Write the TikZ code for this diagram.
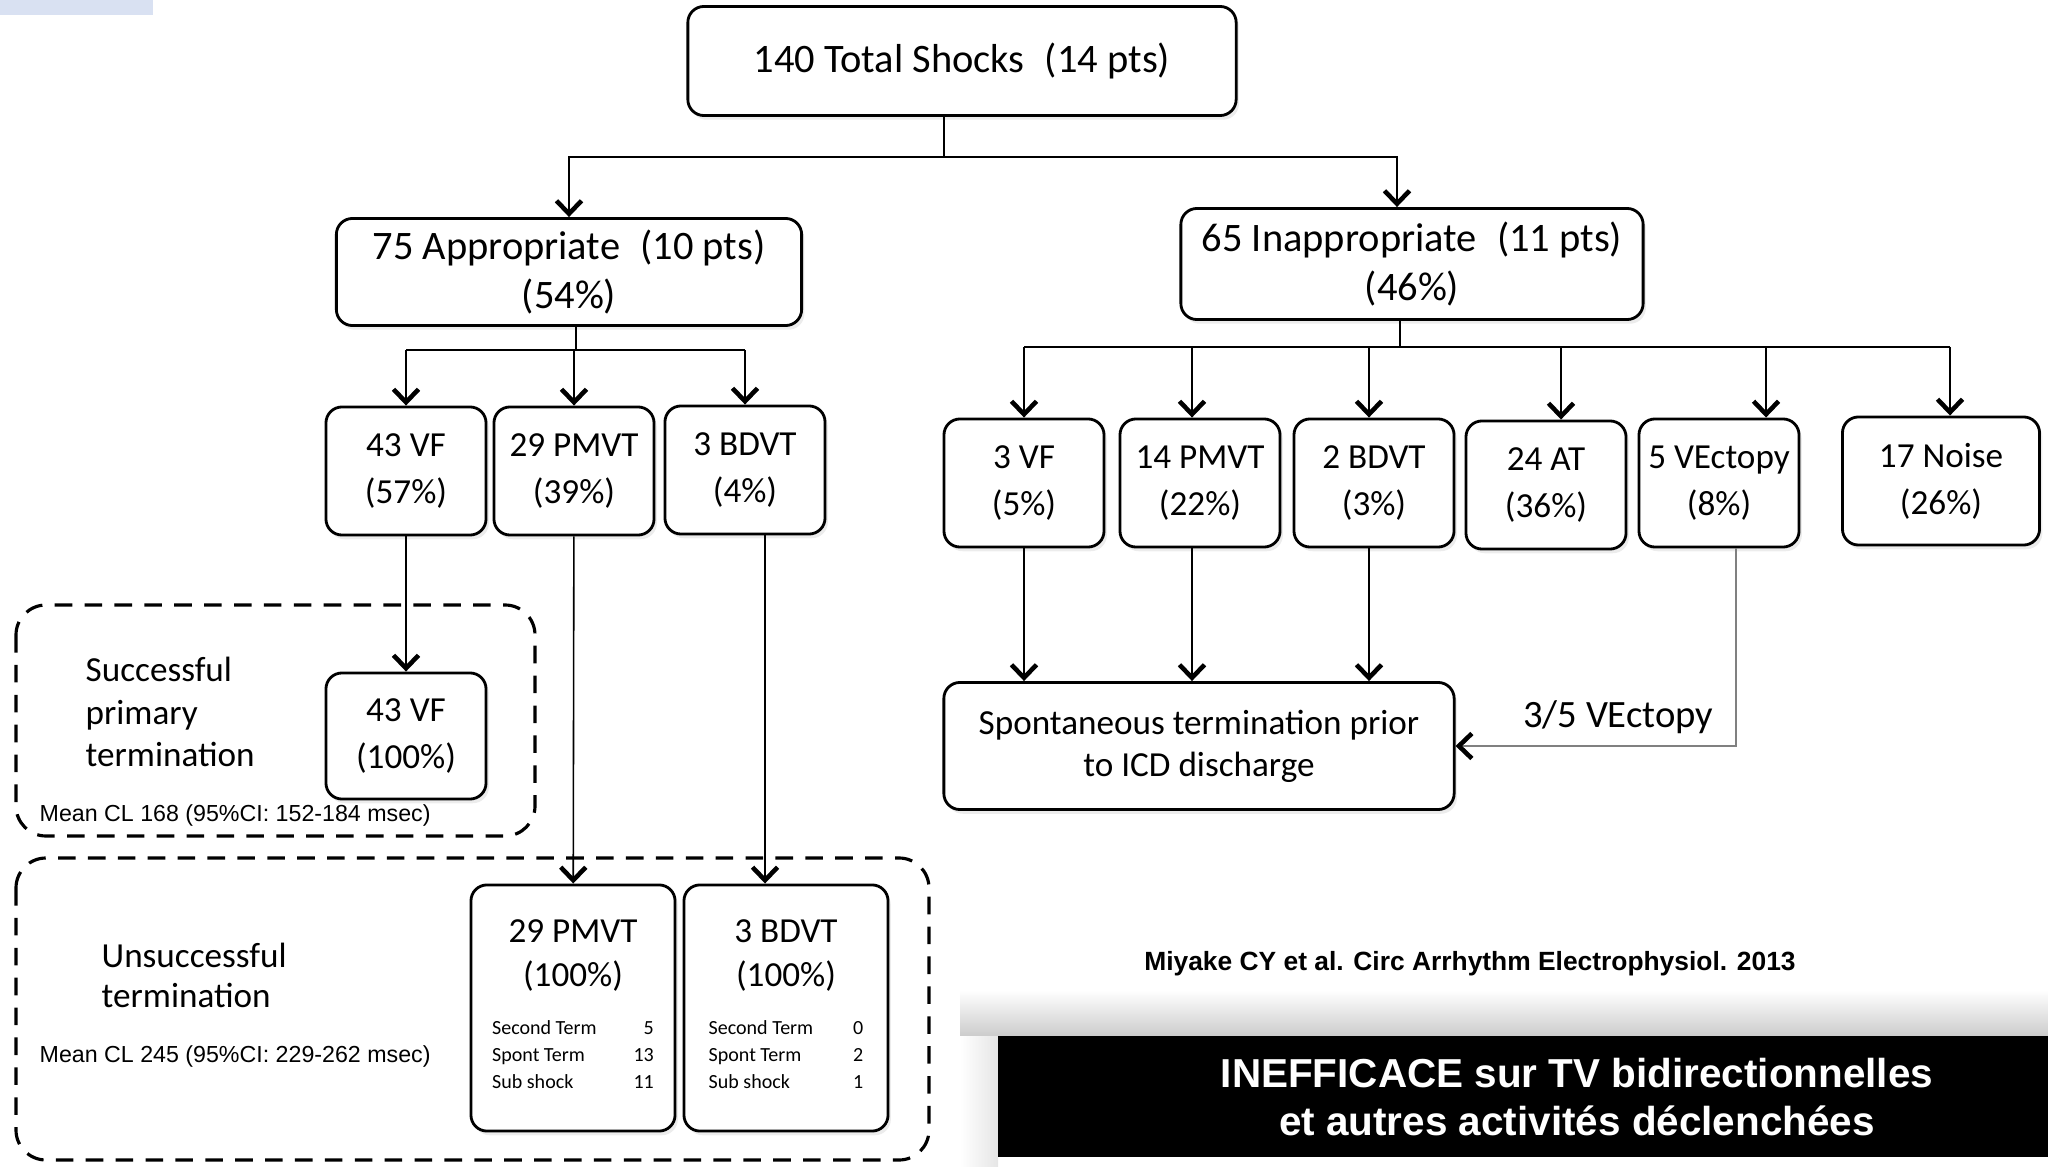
\documentclass[tikz,border=0pt]{standalone}
\usepackage{fontspec}
\setmainfont{Carlito}
\newfontfamily\arialfont{Liberation Sans}
\usetikzlibrary{arrows.meta,shadows}

\definecolor{paleblue}{HTML}{D9E1F2}

% small counts under a box title
\newcommand{\tally}[2]{{\fontsize{5.7}{7.7}\selectfont
  \begin{tabular*}{#1}{@{}l@{\extracolsep{\fill}}r@{}}#2\end{tabular*}}}

\tikzset{
  box/.style={draw, line width=0.8pt, rounded corners=1.6mm, fill=white,
    align=center, inner sep=1pt,
    drop shadow={opacity=0.15, shadow xshift=0.8pt, shadow yshift=-1.2pt}},
  topbox/.style={box, font=\fontsize{11.5}{14}\selectfont},
  typebox/.style={box, font=\fontsize{10}{13.4}\selectfont,
    minimum width=1.6cm, minimum height=1.28cm},
  tallybox/.style={typebox, font=\fontsize{10}{12.5}\selectfont,
    minimum width=2.04cm, minimum height=2.46cm},
  link/.style={line width=0.45pt},
  arr/.style={link, -{Straight Barb[length=1.3mm, width=2.5mm, line width=1.3pt, color=black]}},
  group/.style={line width=0.9pt, dash pattern=on 5pt off 3.5pt, rounded corners=3mm},
  grouptext/.style={anchor=west, align=left, inner sep=0pt, font=\fontsize{10}{12}\selectfont},
  clnote/.style={anchor=west, inner sep=0pt, font=\arialfont\fontsize{6.6}{8}\selectfont},
  citetext/.style={inner sep=0pt, font=\arialfont\bfseries\fontsize{7.5}{9}\selectfont},
  slogan/.style={align=center, inner sep=0pt, text=white,
    font=\arialfont\bfseries\fontsize{11.5}{13.4}\selectfont},
}

\begin{document}
\begin{tikzpicture}[x=0.01cm, y=-0.01cm]
  \useasboundingbox (0,0) rectangle (2048,1167);
  \fill[paleblue] (0,0) rectangle (153,15);

  % dashed groups
  \draw[group] (16,605) rectangle (535,836);
  \draw[group] (16,858) rectangle (929,1160);

  % all shocks
  \node[topbox, minimum width=5.48cm, minimum height=1.09cm] (total) at (962,61) {140 Total Shocks\enspace(14 pts)};
  \node[topbox, minimum width=4.65cm, minimum height=1.07cm] (appr) at (569,272) {75 Appropriate\enspace(10 pts)\\(54\%)};
  \node[topbox, minimum width=4.62cm, minimum height=1.11cm] (inappr) at (1412,264) {65 Inappropriate\enspace(11 pts)\\(46\%)};

  \coordinate (tbus) at (944,157);
  \coordinate (inappr-in) at ([xshift=-1.5mm]inappr.north);
  \draw[link] (total.south -| tbus) -- (tbus);
  \draw[arr] (tbus) -| (appr.north);
  \draw[arr] (tbus) -| (inappr-in);

  % appropriate
  \node[typebox] (avf) at (406,471) {43 VF\\(57\%)};
  \node[typebox] (apm) at (574,471) {29 PMVT\\(39\%)};
  \node[typebox] (abd) at (745,470) {3 BDVT\\(4\%)};

  \coordinate (abus) at (576,350);
  \draw[link] (appr.south -| abus) -- (abus);
  \draw[link] (avf.north |- abus) -- (abd.north |- abus);
  \foreach \n in {avf,apm,abd}
    \draw[arr] (\n.north |- abus) -- (\n.north);

  % inappropriate
  \node[typebox] (ivf) at (1024,483) {3 VF\\(5\%)};
  \node[typebox] (ipm) at (1200,483) {14 PMVT\\(22\%)};
  \node[typebox] (ibd) at (1374,483) {2 BDVT\\(3\%)};
  \node[typebox] (iat) at (1546,485) {24 AT\\(36\%)};
  \node[typebox] (ive) at (1719,483) {5 VEctopy\\(8\%)};
  \node[typebox, minimum width=1.97cm] (ino) at (1941,481) {17 Noise\\(26\%)};

  \coordinate (ibus) at (1400,347);
  \draw[link] (inappr.south -| ibus) -- (ibus);
  \foreach \n/\s in {ivf/0,ipm/-0.8,ibd/-0.5,iat/1.5,ive/4.7,ino/0.9} {
    \coordinate (\n-in) at ([xshift=\s mm]\n.north);
    \draw[arr] (\n-in |- ibus) -- (\n-in);
  }
  \draw[link] (ivf-in |- ibus) -- (ino-in |- ibus);

  \node[typebox, font=\fontsize{10}{12}\selectfont, minimum width=5.1cm, minimum height=1.27cm] (spont) at (1199,746) {Spontaneous termination prior\\to ICD discharge};
  \foreach \n in {ivf,ipm,ibd}
    \draw[arr] (\n-in |- \n.south) -- (\n-in |- spont.north);

  \coordinate (ive-out) at ([xshift=1.7mm]ive.south);
  \draw[arr, gray] (ive-out) |- (spont.east)
    node[pos=0.71, above=0pt, text=black, font=\fontsize{11}{13}\selectfont] (ectopy) {3/5 VEctopy};

  % outcomes
  \node[typebox, minimum height=1.26cm] (svf) at (406,736) {43 VF\\(100\%)};
  \draw[arr] (avf) -- (svf);

  \node[tallybox] (upm) at (573,1008) {29 PMVT\\(100\%)\\[6pt]
    \tally{46pt}{Second Term & 5\\ Spont Term & 13\\ Sub shock & 11}};
  \node[tallybox] (ubd) at (786,1008) {3 BDVT\\(100\%)\\[6pt]
    \tally{44pt}{Second Term & 0\\ Spont Term & 2\\ Sub shock & 1}};
  \draw[arr] (apm) -- (upm);
  \coordinate (abd-out) at ([xshift=2mm]abd.south);
  \draw[arr] (abd-out) -- (abd-out |- ubd.north);

  \node[grouptext] (success) at (85,712) {Successful\\primary\\termination};
  \node[grouptext, font=\fontsize{10}{11.4}\selectfont] (failure) at (101,975) {Unsuccessful\\termination};
  \node[clnote] (cl-success) at (39,815) {Mean CL 168 (95\%CI: 152-184 msec)};
  \node[clnote] (cl-failure) at (39,1056) {Mean CL 245 (95\%CI: 229-262 msec)};

  % reference and take-home banner
  \node[citetext] (source) at (1470,964) {Miyake CY et al. Circ Arrhythm Electrophysiol. 2013};
  \shade[top color=white, bottom color=black!20] (960,990) rectangle (2048,1036);
  \shade[left color=white, right color=black!10] (960,1036) rectangle (998,1167);
  \fill[black] (998,1036) rectangle (2048,1157);
  \node[slogan] (claim) at (1577,1097) {INEFFICACE sur TV bidirectionnelles\\et autres activités déclenchées};
\end{tikzpicture}
\end{document}
